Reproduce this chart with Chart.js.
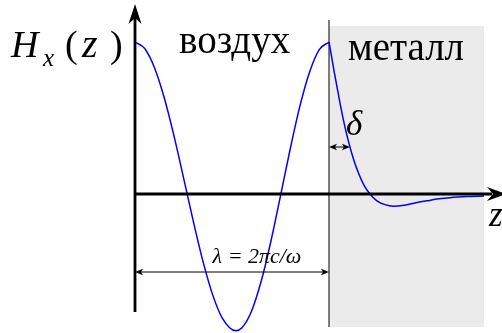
<!DOCTYPE html>
<html>
<head>
<meta charset="utf-8">
<script src="https://cdn.jsdelivr.net/npm/chart.js@4/dist/chart.umd.min.js"></script>
<style>
  html, body { margin: 0; padding: 0; background: #fff; }
  canvas { display: block; }
</style>
</head>
<body>
<canvas id="fieldChart" width="502" height="333"></canvas>
<script>
// z in units of the wavelength, H normalised to its value at the surface
const airZ = [0, 0.05, 0.10, 0.15, 0.20, 0.25, 0.30, 0.35, 0.40, 0.45, 0.52,
              0.55, 0.60, 0.65, 0.70, 0.75, 0.80, 0.85, 0.90, 0.95, 1.0];
const airH = [1.0, 0.957, 0.832, 0.636, 0.387, 0.108, -0.177, -0.442, -0.662, -0.816, -0.90,
              -0.882, -0.773, -0.576, -0.314, -0.012, 0.296, 0.578, 0.803, 0.950, 1.0];

const metalZ = [1.0, 1.026, 1.052, 1.077, 1.103, 1.129, 1.155, 1.180, 1.211, 1.247,
                1.289, 1.330, 1.387, 1.448, 1.505, 1.567, 1.624, 1.711, 1.799];
const metalH = [1.0, 0.81, 0.631, 0.471, 0.333, 0.219, 0.128, 0.058, 0.0, -0.045,
                -0.07, -0.08, -0.074, -0.058, -0.045, -0.032, -0.024, -0.017, -0.013];

const skinDepth = 0.108;     // length of the δ marker
const wavelength = 1.0;      // length of the λ marker

const SERIF = "'Liberation Serif', 'DejaVu Serif', serif";

function toPoints(xs, ys) {
  return xs.map((x, i) => ({ x: x, y: ys[i] }));
}

function arrowHead(ctx, x, y, angle, len, half, notch) {
  ctx.save();
  ctx.translate(x, y);
  ctx.rotate(angle);
  ctx.beginPath();
  ctx.moveTo(0, 0);
  ctx.lineTo(-len, -half);
  ctx.lineTo(-len + notch, 0);
  ctx.lineTo(-len, half);
  ctx.closePath();
  ctx.fill();
  ctx.restore();
}

function dimLine(ctx, x1, x2, y) {
  ctx.save();
  ctx.strokeStyle = "#000";
  ctx.fillStyle = "#000";
  ctx.lineWidth = 1;
  ctx.beginPath();
  ctx.moveTo(x1 + 2, y);
  ctx.lineTo(x2 - 2, y);
  ctx.stroke();
  arrowHead(ctx, x1, y, Math.PI, 8, 3.2, 2);
  arrowHead(ctx, x2, y, 0, 8, 3.2, 2);
  ctx.restore();
}

const backdrop = {
  id: "backdrop",
  beforeDatasetsDraw(chart) {
    const { ctx, scales: { x, y } } = chart;
    ctx.save();
    // metal half-space
    ctx.fillStyle = "#ebebeb";
    const left = x.getPixelForValue(1.0), right = x.getPixelForValue(1.799);
    const top = y.getPixelForValue(1.105), bottom = y.getPixelForValue(-0.875);
    ctx.fillRect(left, top, right - left, bottom - top);
    // boundary
    ctx.strokeStyle = "#2a2a2a";
    ctx.lineWidth = 1.2;
    ctx.beginPath();
    ctx.moveTo(left, y.getPixelForValue(1.145));
    ctx.lineTo(left, bottom);
    ctx.stroke();
    ctx.restore();
  }
};

const annotations = {
  id: "annotations",
  afterDatasetsDraw(chart) {
    const { ctx, scales: { x, y } } = chart;
    const x0 = x.getPixelForValue(0), y0 = y.getPixelForValue(0);
    ctx.save();
    ctx.fillStyle = "#000";
    ctx.strokeStyle = "#000";

    // axes
    ctx.lineWidth = 2.8;
    ctx.beginPath();
    ctx.moveTo(x0, y.getPixelForValue(-0.776));
    ctx.lineTo(x0, 16);
    ctx.moveTo(x0, y0);
    ctx.lineTo(492, y0);
    ctx.stroke();
    arrowHead(ctx, x0, 4, -Math.PI / 2, 20, 6.5, 6);
    arrowHead(ctx, 506, y0, 0, 19, 7, 6);

    // λ and δ markers
    const xs = x.getPixelForValue(wavelength);
    dimLine(ctx, x0, xs, 272);
    dimLine(ctx, xs, x.getPixelForValue(wavelength + skinDepth), 147);

    // labels
    ctx.textBaseline = "alphabetic";
    ctx.textAlign = "left";
    ctx.font = "italic 38px " + SERIF;
    ctx.fillText("H", 11, 57);
    ctx.font = "italic 25px " + SERIF;
    ctx.fillText("x", 43, 66);
    ctx.font = "38px " + SERIF;
    ctx.fillText("(", 65, 57);
    ctx.fillText(")", 110, 57);
    ctx.font = "italic 40px " + SERIF;
    ctx.fillText("z", 82, 57);

    ctx.font = "39px " + SERIF;
    ctx.fillText("воздух", 179, 53);
    ctx.fillText("металл", 348, 60);

    ctx.font = "italic 35px " + SERIF;
    ctx.fillText("δ", 346, 135);
    ctx.fillText("z", 489, 226);

    ctx.font = "italic 22px " + SERIF;
    ctx.textAlign = "center";
    ctx.fillText("λ = 2πc/ω", 257, 263);
    ctx.restore();
  }
};

new Chart(document.getElementById("fieldChart"), {
  type: "line",
  data: {
    datasets: [
      { data: toPoints(airZ, airH) },
      { data: toPoints(metalZ, metalH) }
    ]
  },
  options: {
    responsive: false,
    animation: false,
    layout: { padding: 0 },
    elements: {
      point: { radius: 0 },
      line: { borderColor: "#0000ff", borderWidth: 1.5, cubicInterpolationMode: "monotone", fill: false }
    },
    plugins: { legend: { display: false }, tooltip: { enabled: false } },
    scales: {
      x: { type: "linear", display: false, min: -0.6959, max: 1.8918 },
      y: { type: "linear", display: false, min: -0.9145, max: 1.2763 }
    }
  },
  plugins: [backdrop, annotations]
});
</script>
</body>
</html>
